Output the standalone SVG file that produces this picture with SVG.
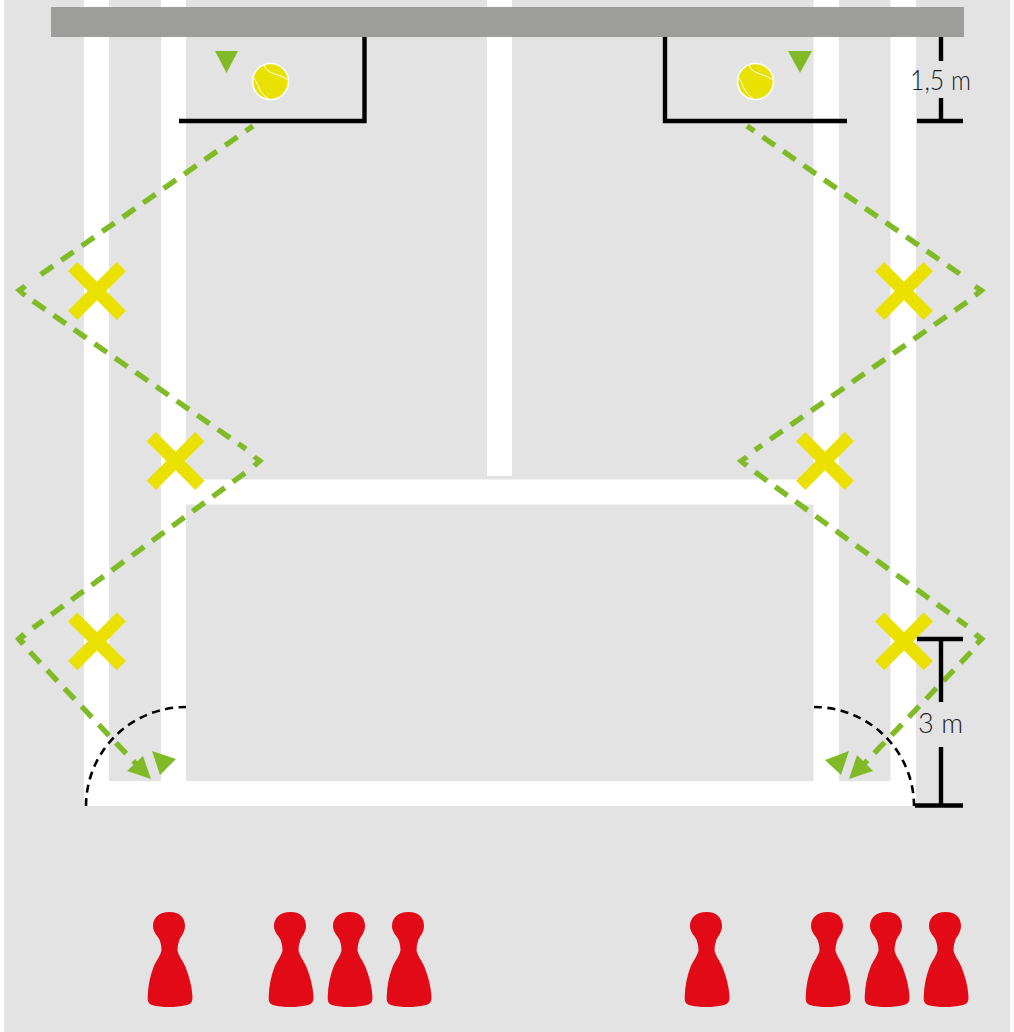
<svg xmlns="http://www.w3.org/2000/svg" width="1014" height="1032" viewBox="0 0 1014 1032">
<style>
.court{fill:#fff}
.blk{stroke:#000;stroke-width:4.400;fill:none}
.arc{stroke:#000;stroke-width:2.600;fill:none;stroke-dasharray:8 5.500}
.run{stroke:#80bb27;stroke-width:5.400;fill:none;stroke-dasharray:15 10}
.tri{fill:#80bb27}
.x{stroke:#ebe100;stroke-width:13;fill:none}
.ball{fill:#e9e100;stroke:#fff;stroke-width:1.600}
.seam{fill:none;stroke:#fff;stroke-width:1}
.pawn{fill:#e30a17}
.lbl{font-family:Lato,"Open Sans",sans-serif;font-weight:300;font-size:28px;fill:#1d1d1b;text-anchor:middle}
</style>
<defs>
<path id="p" d="M22.500 0C33 0 38 6 38 14C38 21 33 25 32 29C31 32 30.500 35 30.500 38C31 43 36 49 38.500 55C42 64 45 74 45.500 85C45.500 90 44 92 40 93C33 94.500 28 95 22.500 95C16 95 10 94.500 5 93C2 92 .5 90 .7 85C1 74 3 64 6.500 55C9 49 14 43 14.500 38C14.500 35 14 32 13 29C12 25 6 21 6 14C6 6 12 0 22.500 0Z"/>
<g id="b"><circle class="ball" cx="0" cy="0" r="18"/><path class="seam" d="M-6-17C-6-8 8-8 17-2M-17-4C-12 2-12 12-2 17"/></g>
</defs>
<rect id="ground" x="4" y="0" width="1006" height="1032" fill="#e3e3e3"/>
<g id="court">
<rect class="court" x="84" y="0" width="25" height="806"/>
<rect class="court" x="161" y="0" width="25" height="806"/>
<rect class="court" x="487" y="0" width="25" height="476"/>
<rect class="court" x="813.500" y="0" width="25.500" height="806"/>
<rect class="court" x="890.500" y="0" width="25.500" height="806"/>
<rect class="court" x="186" y="479.500" width="628" height="25"/>
<rect class="court" x="84" y="781" width="832" height="25"/>
</g>
<rect id="net" x="51" y="7" width="913" height="30" fill="#9d9d9c"/>
<g id="connectors">
<path class="run" style="stroke-dashoffset:6" d="M253 126L33 280"/>
<path class="run" d="M33 301L246 449"/>
<path class="run" d="M245 473L33 628"/>
<path class="run" d="M30 652L136 764"/>
<path class="run" style="stroke-dashoffset:6" d="M747 126L967 279"/>
<path class="run" d="M967 302L755 450"/>
<path class="run" d="M755 472L967 626"/>
<path class="run" d="M971 652L864 764"/>
<path class="arc" d="M86 806A100 99 0 0 1 186 707"/>
<path class="arc" d="M814 707A100 99 0 0 1 914 806"/>
</g>
<g id="arrows">
<polygon class="tri" points="15,290 23.500,284 27,288 23.500,291 27,293.500 23.500,297.500"/>
<polygon class="tri" points="264,460.700 256,455 252.300,458.300 255.700,461 252.300,464 256,467.700"/>
<polygon class="tri" points="15,638.700 22.300,632 27,636.700 23.300,639.300 26,642 21,646"/>
<polygon class="tri" points="985.700,290.300 976.700,284.300 973.300,288.300 976.700,290.700 973.300,293.300 976.700,297.700"/>
<polygon class="tri" points="736.700,460.700 745,455 749,459 745,461.300 749,463.300 745,467.700"/>
<polygon class="tri" points="985.700,638.700 977.300,632 973.300,636.300 977.300,639.300 975,642 978.300,646"/>
<polygon class="tri" points="127,771 143,756 151,779"/>
<polygon class="tri" points="152,751 176,759 160,775"/>
<polygon class="tri" points="873,771 857,755 849,779"/>
<polygon class="tri" points="849,751 825,760 841,775"/>
<polygon class="tri" points="215,51 238,51 226.500,73"/>
<polygon class="tri" points="788,51 812,51 800,73"/>
</g>
<g id="cones">
<path class="x" d="M72.700 266.700L121.300 315.300M121.300 266.700L72.700 315.300"/>
<path class="x" d="M151.300 436.700L199.900 485.300M199.900 436.700L151.300 485.300"/>
<path class="x" d="M72.700 617L121.300 665.600M121.300 617L72.700 665.600"/>
<path class="x" d="M879.700 266.700L928.300 315.300M928.300 266.700L879.700 315.300"/>
<path class="x" d="M800.700 436.700L849.300 485.300M849.300 436.700L800.700 485.300"/>
<path class="x" d="M879.700 617L928.300 665.600M928.300 617L879.700 665.600"/>
</g>
<g id="box-left"><path class="blk" d="M179 121H364.500V37"/></g>
<g id="box-right"><path class="blk" d="M665 37V121H847"/></g>
<g id="dim-15"><path class="blk" d="M941 37V61M941 98V121M917 121H963"/><text class="lbl" x="940.500" y="90" textLength="61" lengthAdjust="spacingAndGlyphs">1,5 m</text></g>
<g id="dim-3"><path class="blk" d="M917 639H963M941 639V702M941 747V805.500M915 805.500H963"/><text class="lbl" x="940.500" y="733" textLength="45" lengthAdjust="spacingAndGlyphs">3 m</text></g>
<use id="ball-left" href="#b" x="270.500" y="81.500"/>
<use id="ball-right" href="#b" x="755.500" y="81.500"/>
<g id="players">
<use class="pawn" href="#p" x="147" y="912"/>
<use class="pawn" href="#p" x="268" y="912"/>
<use class="pawn" href="#p" x="327" y="912"/>
<use class="pawn" href="#p" x="386" y="912"/>
<use class="pawn" href="#p" x="684" y="912"/>
<use class="pawn" href="#p" x="805" y="912"/>
<use class="pawn" href="#p" x="864" y="912"/>
<use class="pawn" href="#p" x="923" y="912"/>
</g>
</svg>
